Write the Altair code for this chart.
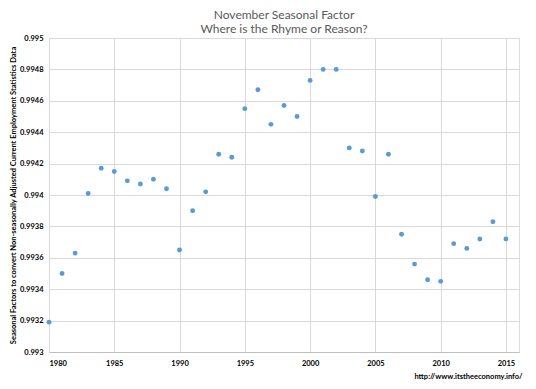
import altair as alt
import pandas as pd

years = list(range(1980, 2016))
factors = [
    0.99319, 0.99350, 0.99363, 0.99401, 0.99417, 0.99415, 0.99409, 0.99407,
    0.99410, 0.99404, 0.99365, 0.99390, 0.99402, 0.99426, 0.99424, 0.99455,
    0.99467, 0.99445, 0.99457, 0.99450, 0.99473, 0.99480, 0.99480, 0.99430,
    0.99428, 0.99399, 0.99426, 0.99375, 0.99356, 0.99346, 0.99345, 0.99369,
    0.99366, 0.99372, 0.99383, 0.99372,
]
x_ticks = [1980, 1985, 1990, 1995, 2000, 2005, 2010, 2015]
y_ticks = [0.993, 0.9932, 0.9934, 0.9936, 0.9938, 0.994, 0.9942, 0.9944, 0.9946, 0.9948, 0.995]

title_lines = ["November Seasonal Factor", "Where is the Rhyme or Reason?"]
y_title = "Seasonal Factors to convert Non-seasonally Adjusted Current Employment Statistics Data"
credit = "http://www.itstheeconomy.info/"

df = pd.DataFrame({"year": years, "factor": factors})

FONT = "Lato"
GRID = "#d9d9d9"

chart = alt.Chart(df).mark_circle(size=24, color="#5B9BD5", opacity=1).encode(
    x=alt.X(
        "year:Q",
        scale=alt.Scale(domain=[1980, 2016], nice=False, zero=False),
        axis=alt.Axis(
            values=x_ticks, format="d", grid=True, gridColor=GRID, domainColor="#bfbfbf",
            ticks=False, labelPadding=7, labelFont=FONT, labelFontSize=7.5,
            labelFontWeight="bold", labelColor="#000000",
            title=credit, titleFont=FONT, titleFontSize=7.5, titleFontWeight="bold",
            titleColor="#000000", titleAlign="right", titleBaseline="middle",
            titleX=473, titleY=24, titleAnchor="end",
        ),
    ),
    y=alt.Y(
        "factor:Q",
        scale=alt.Scale(domain=[0.993, 0.995], nice=False, zero=False),
        axis=alt.Axis(
            values=y_ticks, format="~g", grid=True, gridColor=GRID, domain=False,
            ticks=False, labelPadding=6, labelFont=FONT, labelFontSize=7.5,
            labelFontWeight="bold", labelColor="#000000",
            title=y_title, titleFont=FONT, titleFontSize=7.5, titleFontWeight="bold",
            titleColor="#000000", titleAngle=-90, titleAlign="center",
            titleBaseline="middle", titleX=-36, titleY=157,
        ),
    ),
).properties(
    width=470,
    height=314,
    padding={"left": 41, "top": 30, "right": 9, "bottom": 29},
    autosize=alt.AutoSizeParams(type="none"),
    title=alt.TitleParams(
        text=title_lines, anchor="middle", font=FONT, fontSize=12,
        fontWeight="normal", color="#595959", offset=-2, lineHeight=14.5,
    ),
).configure_view(stroke=None).configure(background="#ffffff")

chart.save("out.html", embed_options={"renderer": "svg", "actions": False})
